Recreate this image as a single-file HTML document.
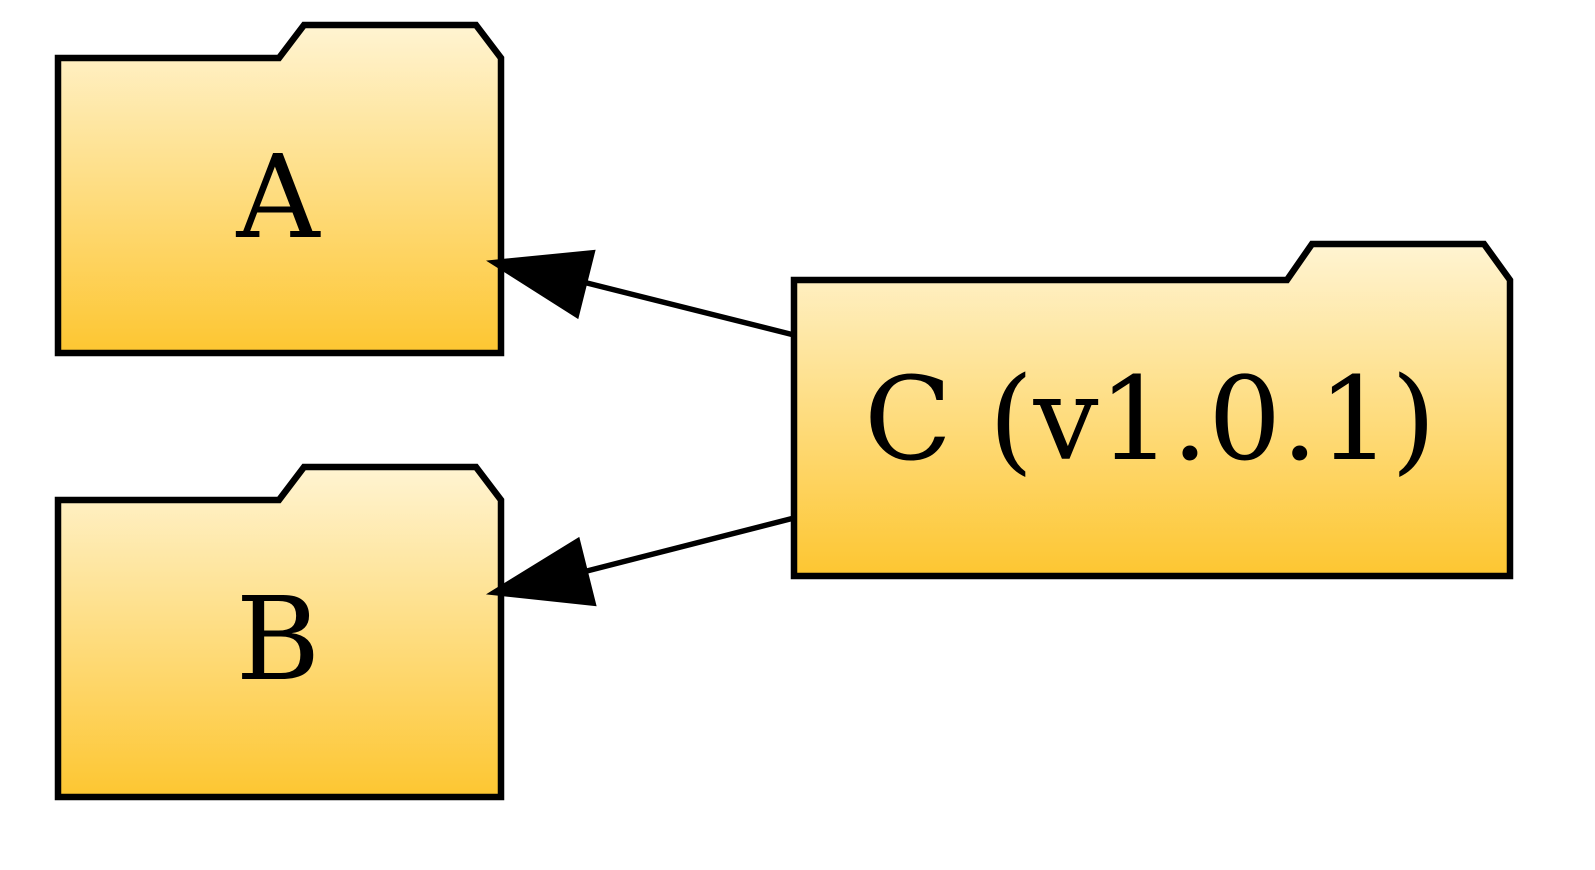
<!DOCTYPE html>
<html><head><meta charset="utf-8"><style>html,body{margin:0;padding:0;background:#fff;}svg{display:block;}</style></head>
<body>
<svg width="1595" height="870" viewBox="0 0 1595 870" xmlns="http://www.w3.org/2000/svg">
<defs>
<linearGradient id="gA" x1="0" y1="0" x2="0" y2="1">
<stop offset="0" stop-color="#fff4d2"/><stop offset="1" stop-color="#fdc631"/>
</linearGradient>
</defs>
<g>
<path d="M58,58 L279,58 L304,25 L476,25 L501,58 L501,353 L58,353 Z" fill="url(#gA)" stroke="#000" stroke-width="6.5"/>
<text x="278" y="237" font-family="'DejaVu Serif','Liberation Serif',serif" font-size="115" text-anchor="middle">A</text>
</g>
<g>
<path d="M58,500 L279,500 L304,467 L476,467 L501,500 L501,797 L58,797 Z" fill="url(#gA)" stroke="#000" stroke-width="6.5"/>
<text x="278" y="679" font-family="'DejaVu Serif','Liberation Serif',serif" font-size="115" text-anchor="middle">B</text>
</g>
<g>
<path d="M794,280 L1287,280 L1312,244 L1484,244 L1510,280 L1510,576 L794,576 Z" fill="url(#gA)" stroke="#000" stroke-width="6.5"/>
<text x="1150" y="459" font-family="'DejaVu Serif','Liberation Serif',serif" font-size="115" text-anchor="middle" textLength="572" lengthAdjust="spacingAndGlyphs">C (v1.0.1)</text>
</g>
<g>
<line x1="794" y1="335" x2="583" y2="282" stroke="#000" stroke-width="5.5"/>
<polygon points="492,262 593,252 577,316" fill="#000" stroke="#000" stroke-width="4"/>
</g>
<g>
<line x1="794" y1="518" x2="583" y2="572" stroke="#000" stroke-width="5.5"/>
<polygon points="492,593 578,540 594,604" fill="#000" stroke="#000" stroke-width="4"/>
</g>
</svg>
</body></html>
